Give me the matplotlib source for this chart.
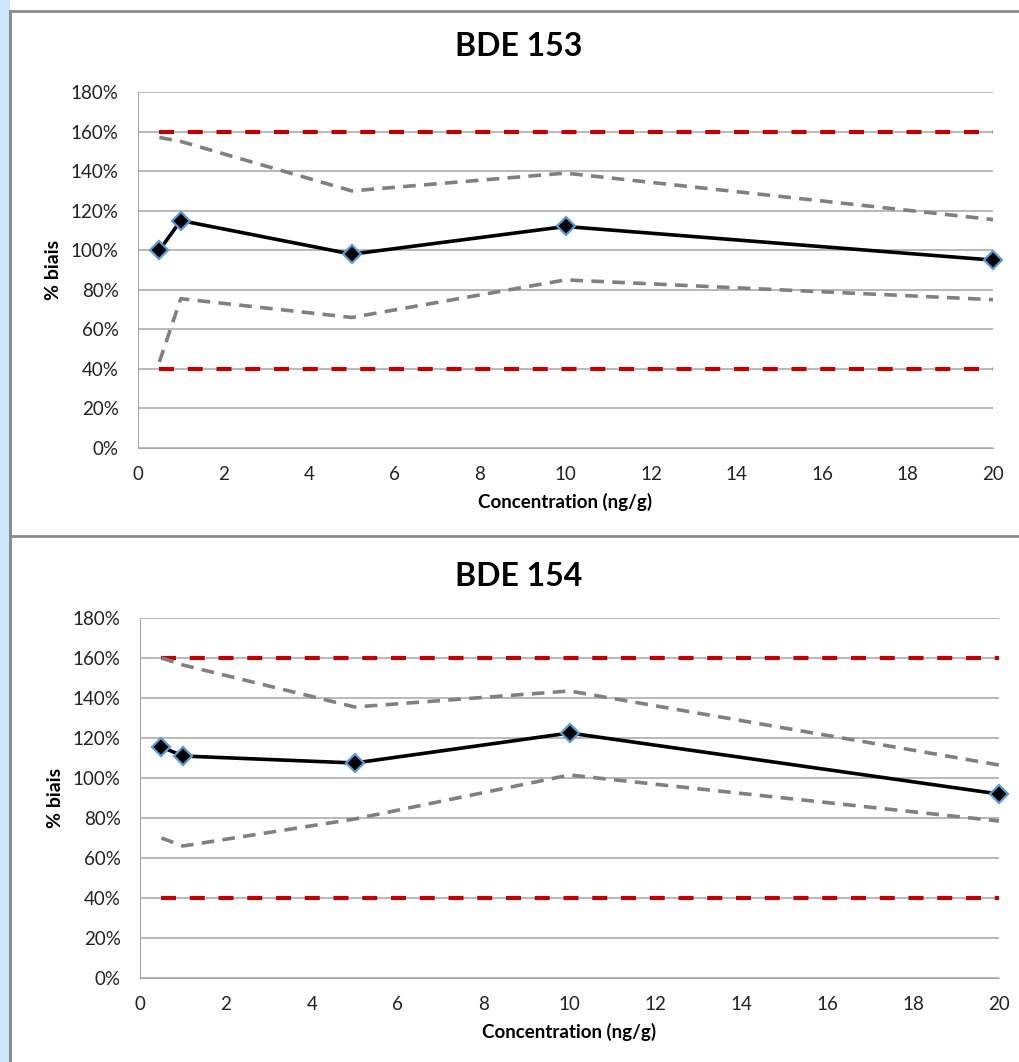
import numpy as np
import matplotlib.pyplot as plt
from matplotlib.patches import Rectangle
from matplotlib.lines import Line2D
from matplotlib.ticker import FuncFormatter

# Données
concentration = [0.5, 1, 5, 10, 20]

titres = ['BDE 153', 'BDE 154']

biais_153 = [100, 115, 98, 112, 95]
sup_153 = [157, 155, 130, 139, 115.5]
inf_153 = [43.5, 75.5, 66, 85, 75]

biais_154 = [115.5, 111, 107.5, 122.5, 92]
sup_154 = [160, 156.5, 135.5, 143.5, 106.5]
inf_154 = [70, 66, 79.5, 101.5, 78.5]

limite_basse = 40
limite_haute = 160

series = [
    (biais_153, sup_153, inf_153),
    (biais_154, sup_154, inf_154),
]

plt.rcParams['font.family'] = ['Lato', 'DejaVu Sans']

fig = plt.figure(figsize=(10.19, 10.62), dpi=100)

# fond et cadres façon Excel
fig.patches.append(Rectangle((0, 0), 10 / 1019, 1, transform=fig.transFigure,
                             facecolor='#cce8ff', edgecolor='none', zorder=0))
fig.add_artist(Line2D([10 / 1019, 10 / 1019], [0, 1 - 11 / 1062], color='#8c8c8c', lw=2.2))
fig.add_artist(Line2D([10 / 1019, 1], [1 - 11 / 1062, 1 - 11 / 1062], color='#8c8c8c', lw=2))
fig.add_artist(Line2D([10 / 1019, 1], [1 - 536 / 1062, 1 - 536 / 1062], color='#8c8c8c', lw=2))

positions = [
    [138 / 1019, 614 / 1062, 855 / 1019, 356 / 1062],
    [140 / 1019, 84 / 1062, 859 / 1019, 360 / 1062],
]
titre_y = [1 - 47 / 1062, 1 - 576 / 1062]

for i, (biais, sup, inf) in enumerate(series):
    ax = fig.add_axes(positions[i])
    ax.set_xlim(0, 20)
    ax.set_ylim(0, 180)
    ax.set_xticks(np.arange(0, 21, 2))
    ax.set_yticks(np.arange(0, 181, 20))
    ax.yaxis.set_major_formatter(FuncFormatter(lambda v, p: f'{v:.0f}%'))
    ax.grid(axis='y', color='#a6a6a6', lw=1.1)
    ax.set_axisbelow(True)
    for s in ['top', 'right']:
        ax.spines[s].set_visible(False)
    ax.spines['left'].set_color('#a6a6a6')
    ax.spines['bottom'].set_color('#a6a6a6')
    ax.tick_params(length=0, labelsize=13.5, colors='#222222')
    ax.tick_params(axis='y', pad=14)
    ax.tick_params(axis='x', pad=13)

    x0, x1 = concentration[0], concentration[-1]
    ax.plot([x0, x1], [limite_haute, limite_haute], color='#c00000', lw=3, dashes=(3.6, 3.3))
    ax.plot([x0, x1], [limite_basse, limite_basse], color='#c00000', lw=3, dashes=(3.6, 3.3))
    ax.plot(concentration, sup, color='#808080', lw=2.6, dashes=(3.5, 2.3))
    ax.plot(concentration, inf, color='#808080', lw=2.6, dashes=(3.5, 2.3))
    ax.plot(concentration, biais, color='black', lw=2.6, marker='D', markersize=9,
            markerfacecolor='black', markeredgecolor='#5b9bd5', markeredgewidth=1.6,
            clip_on=False, zorder=5)

    ax.set_xlabel('Concentration (ng/g)', fontsize=13.5, fontweight='bold', labelpad=7)
    ax.set_ylabel('% biais', fontsize=14, fontweight='bold', labelpad=6)
    fig.text(0.509, titre_y[i], titres[i], ha='center', va='center',
             fontsize=23, fontweight='bold')

fig.savefig('out.png', dpi=100)
